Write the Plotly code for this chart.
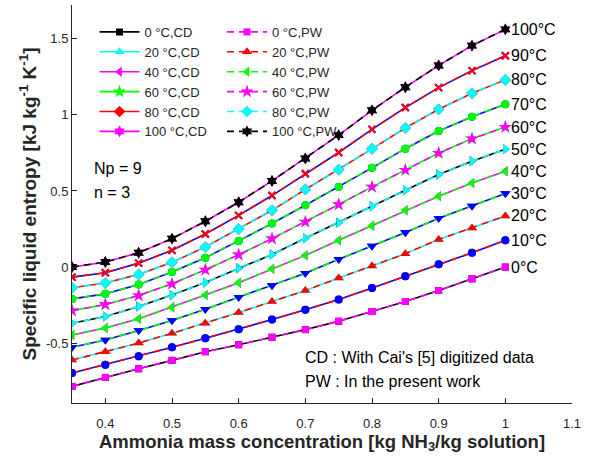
import plotly.graph_objects as go

# ---------------- data ----------------
conc = [0.35, 0.40, 0.45, 0.50, 0.55, 0.60, 0.65, 0.70, 0.75, 0.80, 0.85, 0.90, 0.95, 1.00]
temps = [0, 10, 20, 30, 40, 50, 60, 70, 80, 90, 100]

s_0 = [-0.784, -0.725, -0.668, -0.613, -0.556, -0.510, -0.461, -0.411, -0.356, -0.292, -0.226, -0.154, -0.077, 0.000]
s_10 = [-0.696, -0.641, -0.586, -0.527, -0.468, -0.409, -0.345, -0.281, -0.213, -0.138, -0.061, 0.018, 0.094, 0.176]
s_20 = [-0.611, -0.556, -0.499, -0.435, -0.369, -0.299, -0.226, -0.154, -0.072, 0.007, 0.088, 0.182, 0.257, 0.336]
s_30 = [-0.527, -0.479, -0.417, -0.351, -0.277, -0.198, -0.121, -0.040, 0.051, 0.138, 0.228, 0.321, 0.402, 0.483]
s_40 = [-0.446, -0.400, -0.340, -0.264, -0.184, -0.103, -0.011, 0.077, 0.176, 0.272, 0.373, 0.466, 0.553, 0.630]
s_50 = [-0.369, -0.325, -0.259, -0.184, -0.101, -0.007, 0.083, 0.189, 0.292, 0.400, 0.505, 0.608, 0.696, 0.775]
s_60 = [-0.286, -0.246, -0.187, -0.110, -0.018, 0.081, 0.187, 0.297, 0.411, 0.527, 0.637, 0.749, 0.843, 0.920]
s_70 = [-0.209, -0.176, -0.114, -0.033, 0.061, 0.171, 0.286, 0.406, 0.527, 0.652, 0.778, 0.894, 0.988, 1.070]
s_80 = [-0.136, -0.105, -0.048, 0.031, 0.132, 0.250, 0.373, 0.510, 0.641, 0.777, 0.914, 1.037, 1.142, 1.230]
s_90 = [-0.066, -0.037, 0.026, 0.110, 0.217, 0.340, 0.470, 0.613, 0.753, 0.905, 1.048, 1.179, 1.291, 1.388]
s_100 = [0.000, 0.033, 0.094, 0.187, 0.301, 0.426, 0.566, 0.714, 0.867, 1.030, 1.182, 1.325, 1.455, 1.562]

cd_values = [s_0, s_10, s_20, s_30, s_40, s_50, s_60, s_70, s_80, s_90, s_100]
pw_values = [s_0, s_10, s_20, s_30, s_40, s_50, s_60, s_70, s_80, s_90, s_100]

x_ticks = [0.4, 0.5, 0.6, 0.7, 0.8, 0.9, 1.0, 1.1]
x_tick_labels = ["0.4", "0.5", "0.6", "0.7", "0.8", "0.9", "1", "1.1"]
y_ticks = [-0.5, 0, 0.5, 1, 1.5]
y_tick_labels = ["-0.5", "0", "0.5", "1", "1.5"]

# ---------------- styles ----------------
K, B, C, M, G, R = "#000000", "#0000FF", "#00FFFF", "#FF00FF", "#00FF00", "#FF0000"
cd_color = [K, B, C, B, M, K, G, B, R, B, M]
pw_color = [M, R, R, G, G, C, M, G, C, R, K]
pw_marker_color = [M, B, R, B, G, C, M, G, C, R, K]
symbols = ["square", "circle", "triangle-up", "triangle-down", "triangle-left", "triangle-right",
           "star", "circle", "diamond", "x-thin", "hexagram"]
sizes = [7, 8, 9, 9, 9, 9, 10, 8, 9, 7, 9]

FONT = "Arial, Liberation Sans, Helvetica, sans-serif"
TXT = "#262626"

fig = go.Figure()

for i, t in enumerate(temps):
    in_leg = (t % 20 == 0)
    sym = symbols[i]
    is_x = sym == "x-thin"
    fig.add_trace(go.Scatter(
        x=conc, y=cd_values[i], mode="lines+markers",
        name=f"{t} °C,CD", showlegend=in_leg, legend="legend",
        line=dict(color=cd_color[i], width=1.6, dash="solid"),
        marker=dict(symbol=sym, size=sizes[i], color=cd_color[i],
                    line=dict(color=cd_color[i], width=2 if is_x else 0)),
    ))

for i, t in enumerate(temps):
    in_leg = (t % 20 == 0)
    sym = symbols[i]
    is_x = sym == "x-thin"
    fig.add_trace(go.Scatter(
        x=conc, y=pw_values[i], mode="lines+markers",
        name=f"{t} °C,PW", showlegend=in_leg, legend="legend2",
        line=dict(color=pw_color[i], width=1.6, dash="7px,5px"),
        marker=dict(symbol=sym, size=sizes[i], color=pw_marker_color[i],
                    line=dict(color=pw_marker_color[i], width=2 if is_x else 0)),
    ))

# temperature labels at the right end of each curve
for i, t in enumerate(temps):
    fig.add_annotation(x=conc[-1], y=pw_values[i][-1], text=f"{t}°C", showarrow=False,
                       xanchor="left", yanchor="middle", xshift=4,
                       font=dict(family=FONT, size=16, color="#000000"))

fig.add_annotation(xref="paper", yref="paper", x=0.040, y=0.590, text="Np = 9", showarrow=False,
                   xanchor="left", yanchor="middle", font=dict(family=FONT, size=16, color="#000000"))
fig.add_annotation(xref="paper", yref="paper", x=0.040, y=0.530, text="n = 3", showarrow=False,
                   xanchor="left", yanchor="middle", font=dict(family=FONT, size=16, color="#000000"))
fig.add_annotation(xref="paper", yref="paper", x=0.462, y=0.114, text="CD : With Cai's [5] digitized data",
                   showarrow=False, xanchor="left", yanchor="middle",
                   font=dict(family=FONT, size=16, color="#000000"))
fig.add_annotation(xref="paper", yref="paper", x=0.462, y=0.053, text="PW : In the present work",
                   showarrow=False, xanchor="left", yanchor="middle",
                   font=dict(family=FONT, size=16, color="#000000"))

yr = [-0.893, 1.722]
axis_common = dict(showgrid=False, zeroline=False, showline=True, linecolor=TXT, linewidth=1,
                   ticks="inside", ticklen=5, tickcolor=TXT,
                   tickfont=dict(family=FONT, size=13, color=TXT))

fig.update_layout(
    width=612, height=457,
    margin=dict(l=72, r=40, t=5, b=54),
    paper_bgcolor="white", plot_bgcolor="white",
    font=dict(family=FONT, color=TXT),
    xaxis=dict(range=[0.35, 1.1], tickvals=x_ticks, ticktext=x_tick_labels, ticklabelstandoff=8,
               title=dict(text="<b>Ammonia mass concentration [kg NH<sub>3</sub>/kg solution]</b>",
                          font=dict(family=FONT, size=18.5, color=TXT), standoff=4),
               **axis_common),
    yaxis=dict(range=yr, tickvals=y_ticks, ticktext=y_tick_labels,
               title=dict(text="<b>Specific liquid entropy [kJ kg<sup>-1</sup> K<sup>-1</sup>]</b>",
                          font=dict(family=FONT, size=19, color=TXT), standoff=4),
               **axis_common),
    yaxis2=dict(range=yr, tickvals=y_ticks, ticktext=y_tick_labels, overlaying="y", side="right",
                **axis_common),
    legend=dict(x=0.045, y=0.97, xanchor="left", yanchor="top", bgcolor="rgba(0,0,0,0)",
                itemwidth=40, traceorder="normal",
                font=dict(family=FONT, size=13, color=TXT)),
    legend2=dict(x=0.30, y=0.97, xanchor="left", yanchor="top", bgcolor="rgba(0,0,0,0)",
                 itemwidth=40, traceorder="normal",
                 font=dict(family=FONT, size=13, color=TXT)),
)

fig.write_html("out.html", config={"displayModeBar": False},
               post_script="document.body.style.margin='0';")
